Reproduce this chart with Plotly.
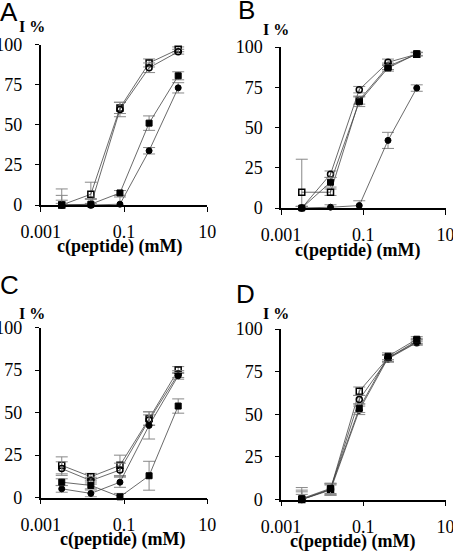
import plotly.graph_objects as go

conc = [0.0032, 0.016, 0.08, 0.4, 2.0]
x_tick_vals = [0.001, 0.1, 10]
x_tick_text = ["0.001", "0.1", "10"]
y_tick_vals = [0, 25, 50, 75, 100]
panel_labels = ["A", "B", "C", "D"]

# Panel A
A_open_sq = [0, 6.7, 60.5, 88.5, 97.0]
A_open_sq_err = [10, 7.5, 3.5, 2.5, 1.5]
A_open_ci = [0, 0, 59.5, 85.5, 95.5]
A_open_ci_err = [6, 4, 4.5, 3, 1.5]
A_fill_sq = [0, 0.5, 7.5, 51, 80.5]
A_fill_sq_err = [3, 3, 1.5, 4.5, 2.5]
A_fill_ci = [0, 0, 0.5, 33.8, 73]
A_fill_ci_err = [1, 1, 4.5, 2, 3.2]

# Panel B
B_open_sq = [9.8, 9.8, 67, 88, 95.5]
B_open_sq_err = [20.5, 2, 2.5, 2, 1]
B_open_ci = [0, 21, 73.5, 90.5, 95.5]
B_open_ci_err = [1, 2, 2, 2, 1]
B_fill_sq = [0, 16, 66, 87, 95.8]
B_fill_sq_err = [1, 3, 3, 2, 1]
B_fill_ci = [0, 0.5, 1.5, 42, 74.5]
B_fill_ci_err = [1, 1.5, 3, 5, 2]

# Panel C
C_open_sq = [18.9, 12.2, 18.9, 46.4, 75]
C_open_sq_err = [5, 2, 6, 4, 2]
C_open_ci = [17, 9.9, 16.2, 45.6, 72.6]
C_open_ci_err = [4, 2, 4, 3, 2]
C_fill_sq = [9, 7.1, 0.4, 12.8, 53.8]
C_fill_sq_err = [2, 2, 2, 8.5, 4.2]
C_fill_ci = [5.1, 2.4, 9, 42.4, 71.6]
C_fill_ci_err = [2, 2, 3, 8, 2]

# Panel D
D_open_sq = [0, 6, 63.5, 83, 93]
D_open_sq_err = [7, 3.5, 2.5, 2, 1.5]
D_open_ci = [0, 6, 58.6, 82.5, 92]
D_open_ci_err = [5.5, 3, 2.5, 2, 1.5]
D_fill_sq = [0.5, 6.5, 53.5, 84, 94]
D_fill_sq_err = [4, 3, 2.5, 2, 1.5]
D_fill_ci = [0, 5.5, 52.3, 83, 92.3]
D_fill_ci_err = [3, 3, 2.5, 2, 1.5]

panels = [
    [(A_open_sq, A_open_sq_err), (A_open_ci, A_open_ci_err), (A_fill_ci, A_fill_ci_err), (A_fill_sq, A_fill_sq_err)],
    [(B_open_sq, B_open_sq_err), (B_open_ci, B_open_ci_err), (B_fill_ci, B_fill_ci_err), (B_fill_sq, B_fill_sq_err)],
    [(C_open_sq, C_open_sq_err), (C_open_ci, C_open_ci_err), (C_fill_ci, C_fill_ci_err), (C_fill_sq, C_fill_sq_err)],
    [(D_open_sq, D_open_sq_err), (D_open_ci, D_open_ci_err), (D_fill_ci, D_fill_ci_err), (D_fill_sq, D_fill_sq_err)],
]
symbols = ["square-open", "circle-open", "circle", "square"]

W, H = 453, 552
# plot areas in pixels: (x0, x1, ytop, ybottom)
areas = [(40.7, 207.3, 44.5, 205), (281, 445.5, 47, 208),
         (40.7, 207.3, 327.5, 497.5), (281, 445.5, 329, 499.5)]
# text centres in pixels
letter_pos = [(9, 11.5), (246, 10), (9, 285), (245, 293.5)]
ipct_pos = [(17, 26.7), (261, 29), (17, 313), (261, 313)]
xtitle_pos = [(119, 246), (357, 250), (122, 539), (352, 541)]

serif = "Liberation Serif, Times New Roman, serif"
fig = go.Figure()
layout = dict(width=W, height=H, margin=dict(l=0, r=0, t=0, b=0),
              paper_bgcolor="white", plot_bgcolor="white", showlegend=False,
              annotations=[])

for i, (series, area) in enumerate(zip(panels, areas)):
    n = "" if i == 0 else str(i + 1)
    x0, x1, yt, yb = area
    layout["xaxis" + n] = dict(
        type="log", range=[-3, 1], domain=[x0 / W, x1 / W], anchor="y" + n,
        tickvals=x_tick_vals, ticktext=x_tick_text, ticks="outside", ticklen=5,
        tickwidth=1.3, tickcolor="black", showline=True, linecolor="black", linewidth=1.5,
        showgrid=False, zeroline=False, tickfont=dict(family=serif, size=18, color="black"),
        ticklabelstandoff=5, automargin=False, ticklabeloverflow="allow")
    layout["yaxis" + n] = dict(
        range=[0, 100], domain=[1 - yb / H, 1 - yt / H], anchor="x" + n,
        tickvals=y_tick_vals, ticks="outside", ticklen=4, tickwidth=1.3, tickcolor="black",
        showline=True, linecolor="black", linewidth=1.5, showgrid=False, zeroline=False,
        tickfont=dict(family=serif, size=18, color="black"), ticklabelstandoff=9,
        automargin=False, ticklabeloverflow="allow")
    for (vals, errs), sym in zip(series, symbols):
        is_open = sym.endswith("open")
        fig.add_trace(go.Scatter(
            x=conc, y=vals, mode="lines+markers", xaxis="x" + n, yaxis="y" + n,
            line=dict(color="#444444", width=0.8),
            marker=dict(symbol=sym, size=6, color="black",
                        line=dict(color="black", width=1.5 if is_open else 1)),
            error_y=dict(type="data", array=errs, color="#888888", thickness=1, width=6),
            cliponaxis=False))
    tx, ty = xtitle_pos[i]
    layout["annotations"].append(dict(
        x=tx / W, y=1 - ty / H, xref="paper", yref="paper",
        text="<b>c(peptide) (mM)</b>", showarrow=False,
        font=dict(family=serif, size=18, color="black"), xanchor="center", yanchor="middle"))
    ix, iy = ipct_pos[i]
    layout["annotations"].append(dict(
        x=ix / W, y=1 - iy / H, xref="paper", yref="paper",
        text="<b>I %</b>", showarrow=False,
        font=dict(family=serif, size=16, color="black"), xanchor="left", yanchor="middle"))
    lx, ly = letter_pos[i]
    layout["annotations"].append(dict(
        x=lx / W, y=1 - ly / H, xref="paper", yref="paper", text=panel_labels[i],
        showarrow=False, font=dict(family="Liberation Sans, Arial, sans-serif", size=26,
                                   color="black"),
        xanchor="center", yanchor="middle"))

fig.update_layout(**layout)
fig.write_html("out.html", config={"displayModeBar": False},
               post_script="document.body.style.margin='0';document.body.style.padding='0';")
